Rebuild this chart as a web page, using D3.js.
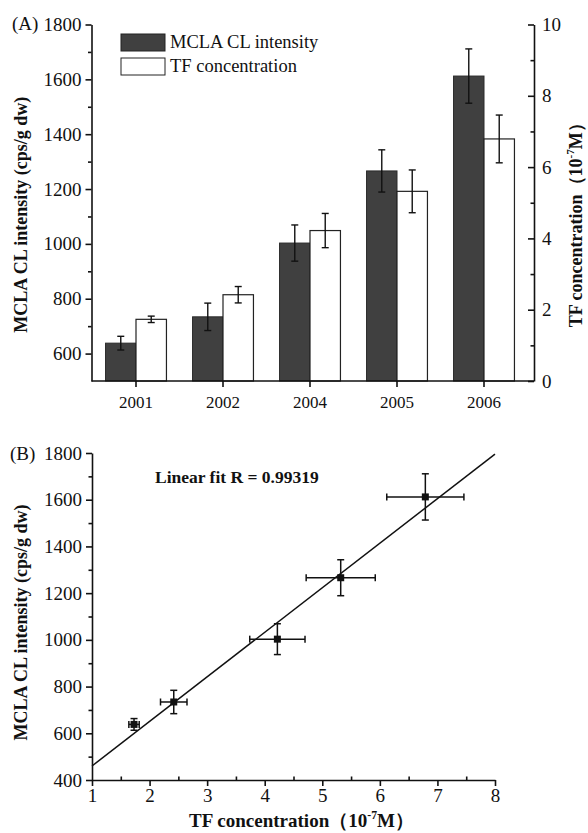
<!DOCTYPE html>
<html>
<head>
<meta charset="utf-8">
<script src="https://cdn.jsdelivr.net/npm/d3@7"></script>
<style>
  body { margin: 0; background: #fff; }
  svg text { font-family: "Liberation Serif", "DejaVu Serif", serif; fill: #111; }
</style>
</head>
<body>
<svg id="chart" width="588" height="833"></svg>
<script>
// data
var years = ["2001", "2002", "2004", "2005", "2006"];
var mclaIntensity = [638, 734, 1003, 1266, 1612];
var mclaError = [25, 50, 66, 77, 99];
var tfConcentration = [1.73, 2.42, 4.22, 5.32, 6.79];
var tfError = [0.09, 0.23, 0.48, 0.60, 0.67];

var seriesNames = ["MCLA CL intensity", "TF concentration"];
var leftTicksA = [600, 800, 1000, 1200, 1400, 1600, 1800];
var leftMinorA = [700, 900, 1100, 1300, 1500, 1700];
var rightTicksA = [0, 2, 4, 6, 8, 10];
var rightMinorA = [1, 3, 5, 7, 9];
var leftTicksB = [400, 600, 800, 1000, 1200, 1400, 1600, 1800];
var leftMinorB = [500, 700, 900, 1100, 1300, 1500, 1700];
var xTicksB = [1, 2, 3, 4, 5, 6, 7, 8];
var xMinorB = [1.5, 2.5, 3.5, 4.5, 5.5, 6.5, 7.5];
var fitLabel = "Linear fit R = 0.99319";

var svg = d3.select("#chart");
var ink = "#111";
var darkFill = "#404040";
var serif = '"Liberation Serif", "DejaVu Serif", serif';
var fmt = d3.format("d");

function styleAxis(g, size) {
    g.attr("font-family", null).attr("font-size", null);
    g.selectAll("path, line").attr("stroke", ink).attr("stroke-width", 1.6);
    g.selectAll("text").style("font-family", serif).style("font-size", size + "px").attr("fill", ink);
}

function addSuper(t, before, sup, after) {
    t.append("tspan").text(before);
    t.append("tspan").attr("dy", -8).style("font-size", "0.62em").text(sup);
    t.append("tspan").attr("dy", 8).text(after);
}

// ---------- panel A: grouped bars with two y axes ----------
var a = { left: 91.5, right: 534, top: 24.5, bottom: 381 };

var x0 = d3.scaleBand().domain(years)
    .range([a.left + 1, a.left + 436])
    .paddingInner(0.3).paddingOuter(0.15);
var x1 = d3.scaleBand().domain(seriesNames).range([0, x0.bandwidth()]);
var yL = d3.scaleLinear().domain([500, 1800]).range([a.bottom, a.top]);
var yR = d3.scaleLinear().domain([0, 10]).range([a.bottom, a.top]);

var gA = svg.append("g");

var rows = years.map(function (yr, i) {
    return { year: yr, mcla: mclaIntensity[i], mErr: mclaError[i], tf: tfConcentration[i], tErr: tfError[i] };
});

gA.selectAll(".barM").data(rows).enter().append("rect")
    .attr("x", function (d) { return x0(d.year) + x1(seriesNames[0]); })
    .attr("width", x1.bandwidth())
    .attr("y", function (d) { return yL(d.mcla); })
    .attr("height", function (d) { return a.bottom - yL(d.mcla); })
    .attr("fill", darkFill).attr("stroke", "#2a2a2a").attr("stroke-width", 1);

gA.selectAll(".barT").data(rows).enter().append("rect")
    .attr("x", function (d) { return x0(d.year) + x1(seriesNames[1]); })
    .attr("width", x1.bandwidth())
    .attr("y", function (d) { return yR(d.tf); })
    .attr("height", function (d) { return a.bottom - yR(d.tf); })
    .attr("fill", "#fff").attr("stroke", "#222").attr("stroke-width", 1.2);

function vErr(g, cx, yTop, yBot, cap) {
    g.append("line").attr("x1", cx).attr("x2", cx).attr("y1", yTop).attr("y2", yBot);
    g.append("line").attr("x1", cx - cap).attr("x2", cx + cap).attr("y1", yTop).attr("y2", yTop);
    g.append("line").attr("x1", cx - cap).attr("x2", cx + cap).attr("y1", yBot).attr("y2", yBot);
}
function hErr(g, cy, xL, xR, cap) {
    g.append("line").attr("x1", xL).attr("x2", xR).attr("y1", cy).attr("y2", cy);
    g.append("line").attr("x1", xL).attr("x2", xL).attr("y1", cy - cap).attr("y2", cy + cap);
    g.append("line").attr("x1", xR).attr("x2", xR).attr("y1", cy - cap).attr("y2", cy + cap);
}

var errA = gA.append("g").attr("stroke", ink).attr("stroke-width", 1.4);
rows.forEach(function (d) {
    var cm = x0(d.year) + x1(seriesNames[0]) + x1.bandwidth() / 2;
    var ct = x0(d.year) + x1(seriesNames[1]) + x1.bandwidth() / 2;
    vErr(errA, cm, yL(d.mcla + d.mErr), yL(d.mcla - d.mErr), 3.5);
    vErr(errA, ct, yR(d.tf + d.tErr), yR(d.tf - d.tErr), 3.5);
});

// axes A
var axL = gA.append("g").attr("transform", "translate(" + a.left + ",0)")
    .call(d3.axisLeft(yL).tickValues(leftTicksA).tickFormat(fmt).tickSizeInner(6).tickSizeOuter(0).tickPadding(4));
styleAxis(axL, 19);
var axLm = gA.append("g").attr("transform", "translate(" + a.left + ",0)")
    .call(d3.axisLeft(yL).tickValues(leftMinorA).tickSize(3.5).tickFormat(""));
styleAxis(axLm, 10);
axLm.select(".domain").remove();

var axR = gA.append("g").attr("transform", "translate(" + a.right + ",0)")
    .call(d3.axisRight(yR).tickValues(rightTicksA).tickFormat(fmt).tickSizeInner(-6).tickSizeOuter(0).tickPadding(8));
styleAxis(axR, 19);
var axRm = gA.append("g").attr("transform", "translate(" + a.right + ",0)")
    .call(d3.axisRight(yR).tickValues(rightMinorA).tickSize(-3.5).tickFormat(""));
styleAxis(axRm, 10);
axRm.select(".domain").remove();

var axX = gA.append("g").attr("transform", "translate(0," + a.bottom + ")")
    .call(d3.axisBottom(x0).tickSizeInner(6).tickSizeOuter(0).tickPadding(9));
styleAxis(axX, 17);
axX.selectAll(".tick line").attr("transform", "translate(" + (-x0.bandwidth() / 2 + x1.bandwidth()) + ",0)");
axX.selectAll(".tick text").attr("transform", "translate(" + (-x0.bandwidth() / 2 + x1.bandwidth()) + ",0)");
axX.select(".domain").attr("d", "M" + a.left + ",0H" + a.right);

gA.append("text").attr("x", 12).attr("y", 30).style("font-size", "19px").text("(A)");

gA.append("text")
    .attr("transform", "translate(27," + ((a.top + a.bottom) / 2 + 12) + ") rotate(-90)")
    .attr("text-anchor", "middle").style("font-size", "18px").style("font-weight", "bold")
    .text("MCLA CL intensity (cps/g dw)");

var rt = gA.append("text")
    .attr("transform", "translate(582," + ((a.top + a.bottom) / 2 + 18) + ") rotate(-90)")
    .attr("text-anchor", "middle").style("font-size", "18px").style("font-weight", "bold");
addSuper(rt, "TF concentration（10", "-7", "M）");

// legend
var legend = gA.append("g");
seriesNames.forEach(function (name, i) {
    legend.append("rect").attr("x", 121).attr("y", 34 + i * 24).attr("width", 44).attr("height", 17)
        .attr("fill", i === 0 ? darkFill : "#fff").attr("stroke", "#222").attr("stroke-width", 1);
    legend.append("text").attr("x", 170).attr("y", 48 + i * 24).style("font-size", "18.5px").text(name);
});

// ---------- panel B: scatter with linear fit ----------
var b = { left: 92, right: 495, top: 453, bottom: 780 };
var xB = d3.scaleLinear().domain([1, 8]).range([b.left, b.right]);
var yB = d3.scaleLinear().domain([400, 1800]).range([b.bottom, b.top]);
var gB = svg.append("g");

// least squares fit of MCLA on TF
var mx = d3.mean(tfConcentration), my = d3.mean(mclaIntensity);
var sxy = d3.sum(tfConcentration, function (v, i) { return (v - mx) * (mclaIntensity[i] - my); });
var sxx = d3.sum(tfConcentration, function (v) { return (v - mx) * (v - mx); });
var slope = sxy / sxx, intercept = my - slope * mx;

gB.append("path")
    .datum(xB.domain())
    .attr("d", d3.line().x(function (v) { return xB(v); }).y(function (v) { return yB(intercept + slope * v); }))
    .attr("fill", "none").attr("stroke", ink).attr("stroke-width", 1.5);

var errB = gB.append("g").attr("stroke", ink).attr("stroke-width", 1.5);
rows.forEach(function (d) {
    vErr(errB, xB(d.tf), yB(d.mcla + d.mErr), yB(d.mcla - d.mErr), 3.5);
    hErr(errB, yB(d.mcla), xB(d.tf - d.tErr), xB(d.tf + d.tErr), 3.5);
});
gB.selectAll(".pt").data(rows).enter().append("rect")
    .attr("x", function (d) { return xB(d.tf) - 3.5; })
    .attr("y", function (d) { return yB(d.mcla) - 3.5; })
    .attr("width", 7).attr("height", 7).attr("fill", ink);

var bxL = gB.append("g").attr("transform", "translate(" + b.left + ",0)")
    .call(d3.axisLeft(yB).tickValues(leftTicksB).tickFormat(fmt).tickSizeInner(6).tickSizeOuter(0).tickPadding(4));
styleAxis(bxL, 19);
var bxLm = gB.append("g").attr("transform", "translate(" + b.left + ",0)")
    .call(d3.axisLeft(yB).tickValues(leftMinorB).tickSize(3.5).tickFormat(""));
styleAxis(bxLm, 10);
bxLm.select(".domain").remove();

var bxX = gB.append("g").attr("transform", "translate(0," + b.bottom + ")")
    .call(d3.axisBottom(xB).tickValues(xTicksB).tickFormat(fmt).tickSizeInner(6).tickSizeOuter(0).tickPadding(3));
styleAxis(bxX, 19);
var bxXm = gB.append("g").attr("transform", "translate(0," + b.bottom + ")")
    .call(d3.axisBottom(xB).tickValues(xMinorB).tickSize(-3.5).tickFormat(""));
styleAxis(bxXm, 10);
bxXm.select(".domain").remove();

gB.append("text").attr("x", 10).attr("y", 460).style("font-size", "19px").text("(B)");

gB.append("text").attr("x", 155).attr("y", 483)
    .style("font-size", "17.5px").style("font-weight", "bold").text(fitLabel);

gB.append("text")
    .attr("transform", "translate(27," + ((b.top + b.bottom) / 2 + 6) + ") rotate(-90)")
    .attr("text-anchor", "middle").style("font-size", "18px").style("font-weight", "bold")
    .text("MCLA CL intensity (cps/g dw)");

var bt = gB.append("text").attr("x", (b.left + b.right) / 2 + 8).attr("y", 827)
    .attr("text-anchor", "middle").style("font-size", "19px").style("font-weight", "bold");
addSuper(bt, "TF concentration（10", "-7", "M）");
</script>
</body>
</html>
